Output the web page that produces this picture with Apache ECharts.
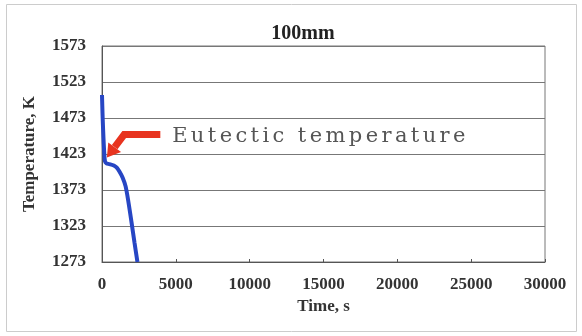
<!DOCTYPE html>
<html><head><meta charset="utf-8">
<script src="https://cdn.jsdelivr.net/npm/echarts@6/dist/echarts.min.js"></script>
<style>html,body{margin:0;padding:0;background:#fff}#c{width:582px;height:336px}</style>
</head><body><div id="c"></div>
<script>
const title = '100mm';
const xName = 'Time, s';
const yName = 'Temperature, K';
const timeS = [0, 20, 50, 100, 150, 200, 300, 500, 800, 1000, 1200, 1400, 1600, 1800, 2000, 2200, 2400];
const tempK = [1505, 1490, 1470, 1445, 1425, 1413, 1410, 1409, 1407, 1404, 1398, 1390, 1378, 1355, 1328, 1300, 1273];
const xTicks = [0, 5000, 10000, 15000, 20000, 25000, 30000];
const yTicks = [1273, 1323, 1373, 1423, 1473, 1523, 1573];
const annotText = 'Eutectic temperature';
const arrowTip = [330, 1418];
const arrowElbow = [1500, 1450];
const arrowTail = [3950, 1450];
const textAnchor = [4750, 1447];

// letter spacing for the annotation text (canvas letterSpacing)
const origFill = CanvasRenderingContext2D.prototype.fillText;
CanvasRenderingContext2D.prototype.fillText = function (t) {
  if (t === annotText && 'letterSpacing' in this) {
    const old = this.letterSpacing;
    this.letterSpacing = '3.4px';
    const r = origFill.apply(this, arguments);
    this.letterSpacing = old;
    return r;
  }
  return origFill.apply(this, arguments);
};

const chart = echarts.init(document.getElementById('c'), null, {renderer: 'canvas'});
const serif = '"Liberation Serif", "Times New Roman", serif';
chart.setOption({
  animation: false,
  backgroundColor: '#fff',
  title: {text: title, left: 298, top: 19, textAlign: 'center',
    textStyle: {fontFamily: serif, fontWeight: 'bold', fontSize: 20, color: '#222'}},
  grid: {left: 102, right: 37, top: 46, bottom: 74, show: true, borderColor: '#777', borderWidth: 1},
  xAxis: {type: 'value', min: xTicks[0], max: xTicks[xTicks.length - 1], interval: 5000,
    name: xName, nameLocation: 'middle', nameGap: 35,
    nameTextStyle: {fontFamily: serif, fontWeight: 'bold', fontSize: 17, color: '#333'},
    axisLine: {lineStyle: {color: '#555', width: 1}},
    axisTick: {inside: true, length: 3, lineStyle: {color: '#555'}},
    axisLabel: {fontFamily: serif, fontWeight: 'bold', fontSize: 17, color: '#333', margin: 14,
      formatter: v => String(v)},
    splitLine: {show: false}},
  yAxis: {type: 'value', min: yTicks[0], max: yTicks[yTicks.length - 1], interval: 50,
    name: yName, nameLocation: 'middle', nameGap: 64, nameRotate: 90,
    nameTextStyle: {fontFamily: serif, fontWeight: 'bold', fontSize: 17, color: '#333'},
    axisLine: {show: true, lineStyle: {color: '#555', width: 1}},
    axisTick: {show: false},
    axisLabel: {fontFamily: serif, fontWeight: 'bold', fontSize: 17, color: '#333', margin: 16,
      formatter: v => String(v)},
    splitLine: {show: true, lineStyle: {color: '#777', width: 1}}},
  series: [{type: 'line', data: timeS.map((t, i) => [t, tempK[i]]), showSymbol: false,
    smooth: 0.3, lineStyle: {color: '#2746c4', width: 4}}]
});

function drawAnnot() {
  const p = v => chart.convertToPixel({gridIndex: 0}, v);
  const tip = p(arrowTip), elb = p(arrowElbow), tail = p(arrowTail), ta = p(textAnchor);
  const dx = tip[0] - elb[0], dy = tip[1] - elb[1];
  const len = Math.sqrt(dx * dx + dy * dy);
  const ux = dx / len, uy = dy / len;
  const headLen = 13, headW = 8;
  const base = [tip[0] - ux * headLen, tip[1] - uy * headLen];
  const nx = -uy, ny = ux;
  chart.setOption({graphic: [
    {type: 'polyline', shape: {points: [tail, elb, base]},
      style: {stroke: '#e8341f', lineWidth: 7, fill: null, lineJoin: 'miter'}, z: 10},
    {type: 'polygon', shape: {points: [tip, [base[0] + nx * headW, base[1] + ny * headW], [base[0] - nx * headW, base[1] - ny * headW]]},
      style: {fill: '#e8341f'}, z: 10},
    {type: 'text', x: ta[0], y: ta[1], style: {text: annotText, fill: '#555',
      font: '21px "DejaVu Serif", serif', textVerticalAlign: 'middle'}, z: 10},
    {type: 'rect', shape: {x: 6.5, y: 4.5, width: 570, height: 327},
      style: {fill: null, stroke: '#ccc', lineWidth: 1}, z: -1, silent: true}
  ]});
}
drawAnnot();
</script></body></html>
